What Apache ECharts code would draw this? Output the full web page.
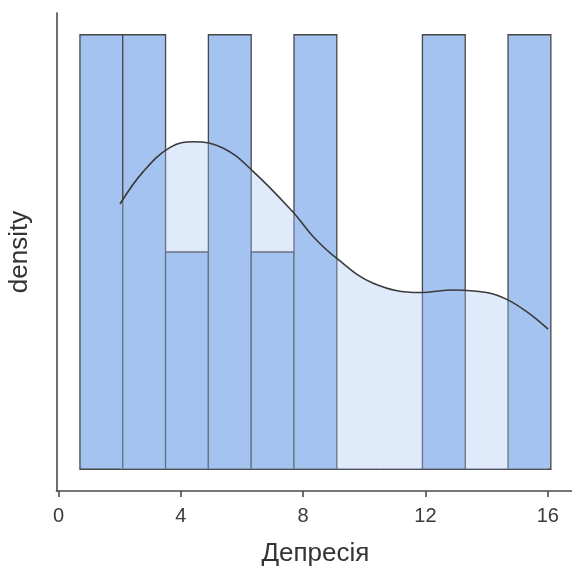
<!DOCTYPE html>
<html>
<head>
<meta charset="utf-8">
<script src="https://cdn.jsdelivr.net/npm/echarts@6/dist/echarts.min.js"></script>
<style>html,body{margin:0;padding:0;background:#fff}#c{width:572px;height:572px}</style>
</head>
<body>
<div id="c"></div>
<script>
// Histogram bins (Депресія) and counts
const binStarts = [0.7, 2.1, 3.5, 4.9, 6.3, 7.7, 9.1, 10.5, 11.9, 13.3, 14.7];
const binEnds   = [2.1, 3.5, 4.9, 6.3, 7.7, 9.1, 10.5, 11.9, 13.3, 14.7, 16.1];
const counts    = [2, 2, 1, 2, 1, 2, 0, 0, 2, 0, 2];

// KDE curve (density units)
const kdeX = [2.01, 2.77, 3.65, 4.41, 5.39, 6.37, 7.68, 8.33, 9.10, 10.29, 11.82, 12.91, 14.00, 14.66, 15.31, 16.01];
const kdeY = [0.0623, 0.0699, 0.0756, 0.0769, 0.0754, 0.0699, 0.0603, 0.0546, 0.0495, 0.0437, 0.0415, 0.0421, 0.0415, 0.0399, 0.0370, 0.0329];

// Axis ticks
const xTicks = [0, 4, 8, 12, 16];
const xLabel = 'Депресія';
const yLabel = 'density';

const total = counts.reduce((a, b) => a + b, 0);
const densities = counts.map((c, i) => c / (total * (binEnds[i] - binStarts[i])));
const maxD = Math.max(...densities);
const barData = binStarts.map((s, i) => [s, binEnds[i], densities[i]]);
const kdeData = kdeX.map((x, i) => [x, kdeY[i]]);

const FONT = '"Liberation Sans", Arial, sans-serif';
const chart = echarts.init(document.getElementById('c'), null, {renderer: 'canvas'});
chart.setOption({
  animation: false,
  backgroundColor: '#ffffff',
  grid: {left: 56.4, top: 13, width: 518, height: 478, containLabel: false, outerBoundsMode: 'none'},
  xAxis: {
    type: 'value',
    min: -0.07, max: 16.87,
    name: xLabel, nameLocation: 'middle', nameGap: 50,
    nameTextStyle: {fontFamily: FONT, fontSize: 26, color: '#333333'},
    axisLine: {show: true, onZero: false, lineStyle: {color: '#4a4a4a', width: 1.6}},
    axisTick: {show: true, length: 6, lineStyle: {color: '#4a4a4a', width: 1.6}, customValues: xTicks},
    axisLabel: {show: true, margin: 15, fontFamily: FONT, fontSize: 20, color: '#3a3a3a', customValues: xTicks},
    splitLine: {show: false}
  },
  yAxis: {
    type: 'value',
    min: -0.05 * maxD, max: 1.05 * maxD,
    name: yLabel, nameLocation: 'middle', nameGap: 24, nameRotate: 90,
    nameTextStyle: {fontFamily: FONT, fontSize: 26, color: '#333333'},
    axisLine: {show: true, onZero: false, lineStyle: {color: '#4a4a4a', width: 1.6}},
    axisTick: {show: false},
    axisLabel: {show: false},
    splitLine: {show: false}
  },
  series: [
    {
      type: 'custom',
      z: 2,
      clip: false,
      data: barData,
      renderItem: function (params, api) {
        const p0 = api.coord([api.value(0), 0]);
        const p1 = api.coord([api.value(1), api.value(2)]);
        return {
          type: 'rect',
          shape: {x: p0[0], y: p1[1], width: p1[0] - p0[0], height: p0[1] - p1[1]},
          style: {fill: '#a4c3f0', stroke: '#474747', lineWidth: 1.3}
        };
      }
    },
    {
      type: 'line',
      z: 3,
      data: kdeData,
      smooth: 0.4,
      showSymbol: false,
      lineStyle: {width: 0, opacity: 0},
      areaStyle: {color: 'rgba(164,195,240,0.5)', origin: 0}
    },
    {
      type: 'line',
      z: 4,
      data: kdeData,
      smooth: 0.4,
      showSymbol: false,
      lineStyle: {width: 1.6, color: '#3a3a3a'}
    }
  ]
});
</script>
</body>
</html>
